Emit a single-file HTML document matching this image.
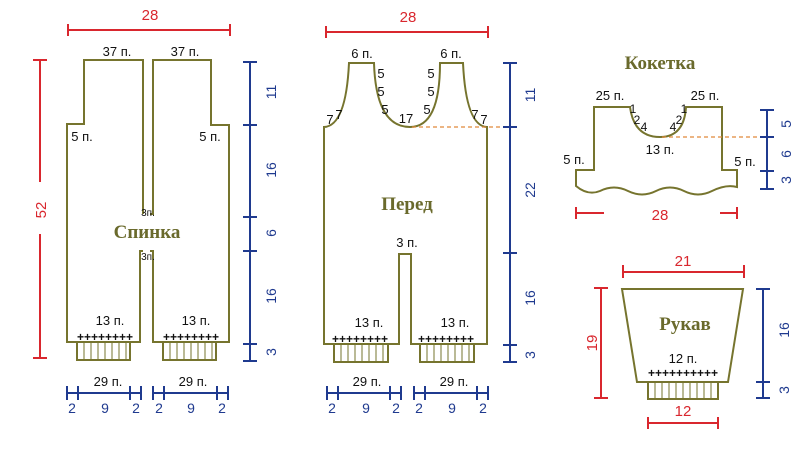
<!DOCTYPE html>
<html><head><meta charset="utf-8"><style>body{margin:0;background:#fff}svg{display:block}</style></head><body>
<svg width="800" height="449" viewBox="0 0 800 449" xmlns="http://www.w3.org/2000/svg" font-family="Liberation Sans, sans-serif">
<g fill="none" stroke="#76742e" stroke-width="2">
<polyline points="143,214 143,60 84,60 84,124 67,124 67,342 140,342 140,251 143,251"/>
<polyline points="150,214 153,214 153,60 211,60 211,125 229,125 229,342 153,342 153,251 150,251"/>
<rect x="77" y="342" width="53" height="18"/><rect x="163" y="342" width="53" height="18"/>
<path d="M324,344 L324,127 Q346,126 349,63 L374,63 Q376,127 410,127 Q440,127 440,63 L463,63 Q466,126 487,127 L487,344 L411,344 L411,254 L399,254 L399,344 Z"/>
<rect x="334" y="344" width="54" height="18"/><rect x="420" y="344" width="54" height="18"/>
<path d="M594,107 L630,107 Q634,137 660,137 Q684,137 686,107 L722,107 L722,170 L737,170 L737,187 Q726,184 712,191 Q698,198 684,191 Q670,184 656,191 Q642,198 628,191 Q614,184 600,191 Q588,196 576,186 L576,170 L594,170 Z"/>
<path d="M622,289 L743,289 L728,382 L637,382 Z"/>
<rect x="648" y="382" width="70" height="17"/>
</g>
<g stroke="#76742e" stroke-width="1">
<path d="M84,343v16M91,343v16M98,343v16M105,343v16M112,343v16M119,343v16M126,343v16"/>
<path d="M170,343v16M177,343v16M184,343v16M191,343v16M198,343v16M205,343v16M212,343v16"/>
<path d="M341,345v16M348,345v16M355,345v16M362,345v16M369,345v16M376,345v16M383,345v16"/>
<path d="M427,345v16M434,345v16M441,345v16M448,345v16M455,345v16M462,345v16M469,345v16"/>
<path d="M655,383v15M662,383v15M669,383v15M676,383v15M683,383v15M690,383v15M697,383v15M704,383v15M711,383v15"/>
</g>
<g stroke="#e0893a" stroke-width="1.3" stroke-dasharray="4,3"><line x1="412" y1="127" x2="510" y2="127"/><line x1="662" y1="137" x2="767" y2="137"/></g>
<g stroke="#d9272e" stroke-width="2" fill="none">
<path d="M68,30H230M68,24v12M230,24v12"/>
<path d="M326,32H488M326,26v12M488,26v12"/>
<path d="M40,60V182M40,234V358M33,60h14M33,358h14"/>
<path d="M576,213h28M720,213h17M576,207v12M737,207v12"/>
<path d="M623,272h121M623,265v13M744,265v13"/>
<path d="M601,288v110M594,288h14M594,398h14"/>
<path d="M648,423h70M648,417v12M718,417v12"/>
</g>
<g fill="#d9272e" font-size="15" text-anchor="middle">
<text x="150" y="20">28</text><text x="408" y="22">28</text><text x="660" y="220">28</text>
<text x="683" y="266">21</text><text x="683" y="416">12</text>
<text transform="translate(46,210) rotate(-90)">52</text>
<text transform="translate(597,343) rotate(-90)">19</text>
</g>
<g stroke="#1f3a8f" stroke-width="2" fill="none">
<path d="M250,62V361M243,62h14M243,125h14M243,217h14M243,251h14M243,344h14M243,361h14"/>
<path d="M510,63V362M503,63h14M503,127h14M503,253h14M503,345h14M503,362h14"/>
<path d="M767,110V189M760,110h14M760,137h14M760,171h14M760,189h14"/>
<path d="M763,289V398M756,289h14M756,382h14M756,398h14"/>
<path d="M67,393H141M67,386v14M78,386v14M130,386v14M141,386v14"/>
<path d="M153,393H228M153,386v14M164,386v14M217,386v14M228,386v14"/>
<path d="M327,393H401M327,386v14M338,386v14M390,386v14M401,386v14"/>
<path d="M414,393H488M414,386v14M425,386v14M477,386v14M488,386v14"/>
</g>
<g fill="#1f3a8f" font-size="14" text-anchor="middle">
<text transform="translate(276,92) rotate(-90)">11</text><text transform="translate(276,170) rotate(-90)">16</text>
<text transform="translate(276,233) rotate(-90)">6</text><text transform="translate(276,296) rotate(-90)">16</text>
<text transform="translate(276,352) rotate(-90)">3</text>
<text transform="translate(535,95) rotate(-90)">11</text><text transform="translate(535,190) rotate(-90)">22</text>
<text transform="translate(535,298) rotate(-90)">16</text><text transform="translate(535,355) rotate(-90)">3</text>
<text transform="translate(791,124) rotate(-90)">5</text><text transform="translate(791,154) rotate(-90)">6</text>
<text transform="translate(791,180) rotate(-90)">3</text>
<text transform="translate(789,330) rotate(-90)">16</text><text transform="translate(789,390) rotate(-90)">3</text>
<text x="72" y="413">2</text><text x="105" y="413">9</text><text x="136" y="413">2</text>
<text x="159" y="413">2</text><text x="191" y="413">9</text><text x="222" y="413">2</text>
<text x="332" y="413">2</text><text x="366" y="413">9</text><text x="396" y="413">2</text>
<text x="419" y="413">2</text><text x="452" y="413">9</text><text x="483" y="413">2</text>
</g>
<g fill="#111" font-size="13" text-anchor="middle">
<text x="117" y="56">37 п.</text><text x="185" y="56">37 п.</text>
<text x="82" y="141">5 п.</text><text x="210" y="141">5 п.</text>
<text x="110" y="325">13 п.</text><text x="196" y="325">13 п.</text>
<text x="108" y="386">29 п.</text><text x="193" y="386">29 п.</text>
<text x="362" y="58">6 п.</text><text x="451" y="58">6 п.</text>
<text x="381" y="78">5</text><text x="381" y="96">5</text><text x="385" y="114">5</text>
<text x="431" y="78">5</text><text x="431" y="96">5</text><text x="427" y="114">5</text>
<text x="330" y="124">7</text><text x="339" y="119">7</text><text x="475" y="119">7</text><text x="484" y="124">7</text>
<text x="406" y="123">17</text>
<text x="407" y="247">3 п.</text>
<text x="369" y="327">13 п.</text><text x="455" y="327">13 п.</text>
<text x="367" y="386">29 п.</text><text x="454" y="386">29 п.</text>
<text x="610" y="100">25 п.</text><text x="705" y="100">25 п.</text>
<text x="660" y="154">13 п.</text><text x="574" y="164">5 п.</text><text x="745" y="166">5 п.</text>
<text x="683" y="363">12 п.</text>
</g>
<g fill="#111" font-size="12" text-anchor="middle">
<text x="633" y="113">1</text><text x="637" y="124">2</text><text x="644" y="131">4</text>
<text x="684" y="113">1</text><text x="679" y="124">2</text><text x="673" y="131">4</text>
<text x="148" y="216" font-size="10">3п.</text><text x="148" y="260" font-size="10">3п.</text>
</g>
<g fill="#111" font-size="12" font-weight="bold" text-anchor="middle">
<text x="105" y="341">++++++++</text><text x="191" y="341">++++++++</text>
<text x="360" y="343">++++++++</text><text x="446" y="343">++++++++</text>
<text x="683" y="377">++++++++++</text>
</g>
<g fill="#6a6a2c" font-family="Liberation Serif, serif" font-weight="bold" font-size="19" text-anchor="middle">
<text x="147" y="238">Спинка</text><text x="407" y="210">Перед</text>
<text x="660" y="69">Кокетка</text><text x="685" y="330">Рукав</text>
</g>
</svg>
</body></html>
